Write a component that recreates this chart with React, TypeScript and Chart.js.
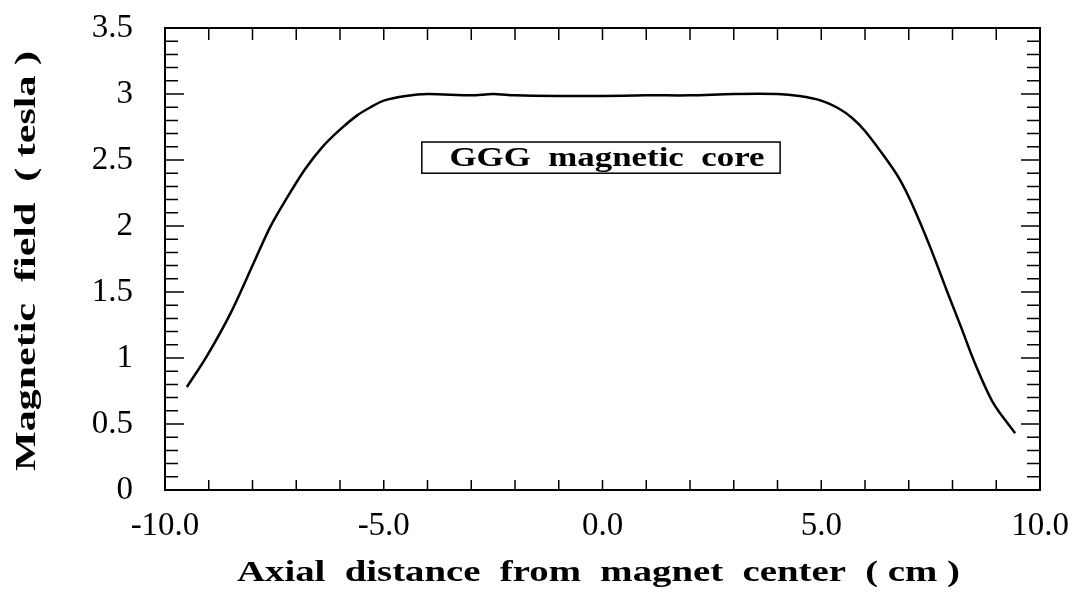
import React, { useEffect, useRef } from "react";
import { Chart, registerables } from "chart.js";

Chart.register(...registerables);

const positionCm = [-9.5, -9.05, -8.5, -8.0, -7.6, -7.2, -6.8, -6.4, -6.0, -5.6, -5.3, -5.0, -4.5, -4.0, -3.0, -2.5, -2.0, -1.0, 0, 1, 2, 3, 4, 4.5, 5, 5.4, 5.7, 6.0, 6.5, 6.8, 7.07, 7.49, 7.87, 8.2, 8.5, 8.93, 9.43];
const fieldTesla = [0.78, 1.01, 1.34, 1.7, 1.99, 2.22, 2.43, 2.6, 2.73, 2.84, 2.9, 2.95, 2.985, 3.0, 2.99, 3.0, 2.99, 2.985, 2.985, 2.99, 2.99, 3.0, 3.0, 2.985, 2.95, 2.89, 2.82, 2.72, 2.5, 2.35, 2.17, 1.84, 1.51, 1.23, 0.97, 0.66, 0.43];

const xTickValues = [-10, -5, 0, 5, 10];
const xTickLabels = ["-10.0", "-5.0", "0.0", "5.0", "10.0"];
const yTickValues = [0, 0.5, 1, 1.5, 2, 2.5, 3, 3.5];
const yTickLabels = ["0", "0.5", "1", "1.5", "2", "2.5", "3", "3.5"];
const annotationText = "GGG  magnetic  core";
const xTitle = "Axial  distance  from  magnet  center  ( cm )";
const yTitle = "Magnetic  field  ( tesla )";

const SERIF = "'Liberation Serif', 'Times New Roman', serif";

function stretchedText(ctx: any, text: string, x: number, y: number, targetWidth: number) {
  const w = ctx.measureText(text).width;
  const sx = targetWidth / w;
  ctx.save();
  ctx.translate(x, y);
  ctx.scale(sx, 1);
  ctx.textAlign = "center";
  ctx.fillText(text, 0, 0);
  ctx.restore();
}

const framePlugin = {
  id: "frameTicks",
  afterDatasetsDraw(chart: any) {
    const { ctx, chartArea, scales } = chart;
    const xs = scales.x;
    const ys = scales.y;
    const { left, right, top, bottom } = chartArea;
    ctx.save();
    ctx.strokeStyle = "#000";
    ctx.lineWidth = 2;
    ctx.strokeRect(left, top, right - left, bottom - top);
    ctx.lineWidth = 1.5;
    ctx.beginPath();
    for (let v = -9; v <= 9; v++) {
      const px = xs.getPixelForValue(v);
      ctx.moveTo(px, bottom);
      ctx.lineTo(px, bottom - 10);
      ctx.moveTo(px, top);
      ctx.lineTo(px, top + 12);
    }
    for (let i = 1; i < 35; i++) {
      const v = i / 10;
      const py = ys.getPixelForValue(v);
      const len = i % 5 === 0 ? 19 : 13;
      ctx.moveTo(left, py);
      ctx.lineTo(left + len, py);
      ctx.moveTo(right, py);
      ctx.lineTo(right - len, py);
    }
    ctx.stroke();

    // annotation box
    const bx1 = xs.getPixelForValue(-4.13);
    const bx2 = xs.getPixelForValue(4.06);
    const by1 = ys.getPixelForValue(2.636);
    const by2 = ys.getPixelForValue(2.4);
    ctx.fillStyle = "#fff";
    ctx.fillRect(bx1, by1, bx2 - bx1, by2 - by1);
    ctx.lineWidth = 1.5;
    ctx.strokeRect(bx1, by1, bx2 - bx1, by2 - by1);
    ctx.fillStyle = "#000";
    ctx.font = `bold 27px ${SERIF}`;
    ctx.textBaseline = "middle";
    stretchedText(ctx, annotationText, (bx1 + bx2) / 2 + 6, (by1 + by2) / 2 + 1, 315);

    // axis titles
    ctx.font = `bold 30px ${SERIF}`;
    ctx.textBaseline = "alphabetic";
    stretchedText(ctx, xTitle, (left + right) / 2 - 4, 581, 723);
    ctx.save();
    ctx.translate(35, (top + bottom) / 2 + 2);
    ctx.rotate(-Math.PI / 2);
    stretchedText(ctx, yTitle, 0, 0, 420);
    ctx.restore();
    ctx.restore();
  },
};

export default function App() {
  const ref = useRef<HTMLCanvasElement | null>(null);
  useEffect(() => {
    if (!ref.current) return;
    const data = positionCm.map((x, i) => ({ x, y: fieldTesla[i] }));
    const chart = new Chart(ref.current, {
      type: "scatter",
      data: {
        datasets: [
          {
            data,
            showLine: true,
            borderColor: "#000",
            borderWidth: 2.5,
            pointRadius: 0,
            tension: 0.3,
            fill: false,
          } as any,
        ],
      },
      options: {
        animation: false,
        responsive: false,
        maintainAspectRatio: false,
        layout: { padding: { top: 28, right: 38, left: 0, bottom: 0 } },
        plugins: { legend: { display: false }, tooltip: { enabled: false } },
        scales: {
          x: {
            type: "linear",
            min: -10,
            max: 10,
            afterBuildTicks: (scale: any) => {
              scale.ticks = xTickValues.map((v) => ({ value: v }));
            },
            afterFit: (scale: any) => {
              scale.height = 102;
              scale.paddingLeft = 0;
              scale.paddingRight = 0;
            },
            grid: { display: false, drawTicks: false },
            border: { display: false },
            ticks: {
              color: "#000",
              padding: 17,
              maxRotation: 0,
              font: { family: SERIF, size: 33 },
              callback: (v: any) => {
                const idx = xTickValues.indexOf(Number(v));
                return idx >= 0 ? xTickLabels[idx] : "";
              },
            },
          },
          y: {
            type: "linear",
            min: 0,
            max: 3.5,
            afterBuildTicks: (scale: any) => {
              scale.ticks = yTickValues.map((v) => ({ value: v }));
            },
            ticks: {
              color: "#000",
              padding: 32,
              font: { family: SERIF, size: 33 },
              callback: (v: any) => {
                const idx = yTickValues.indexOf(Number(v));
                return idx >= 0 ? yTickLabels[idx] : "";
              },
            },
            afterFit: (scale: any) => {
              scale.width = 165;
              scale.paddingTop = 0;
              scale.paddingBottom = 0;
            },
            grid: { display: false, drawTicks: false },
            border: { display: false },
          },
        },
      },
      plugins: [framePlugin],
    });
    return () => chart.destroy();
  }, []);
  return (
    <div style={{ position: "fixed", left: 0, top: 0, width: 1078, height: 592, background: "#fff" }}>
      <canvas ref={ref} width={1078} height={592} style={{ display: "block" }} />
    </div>
  );
}
